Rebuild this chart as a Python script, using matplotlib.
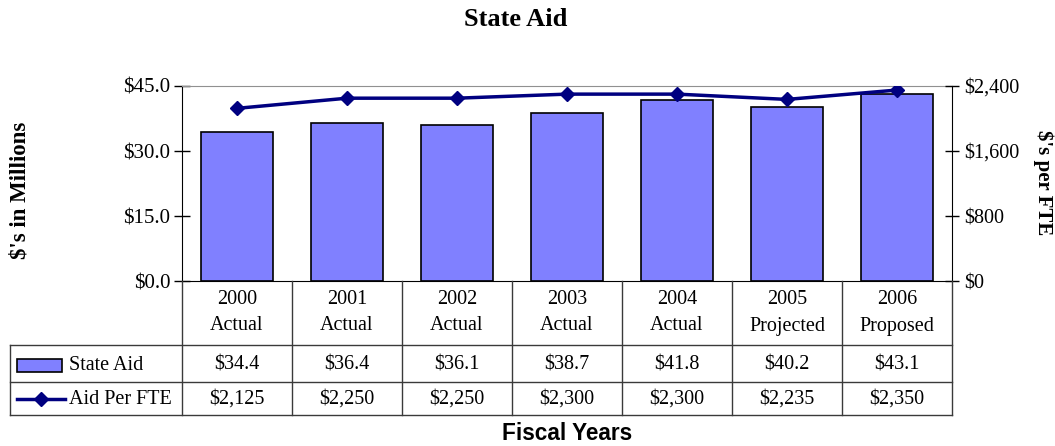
import matplotlib
matplotlib.use("Agg")
import matplotlib.pyplot as plt
from matplotlib.patches import Rectangle
from matplotlib.ticker import FuncFormatter

years = ["2000", "2001", "2002", "2003", "2004", "2005", "2006"]
status = ["Actual", "Actual", "Actual", "Actual", "Actual", "Projected", "Proposed"]
state_aid = [34.4, 36.4, 36.1, 38.7, 41.8, 40.2, 43.1]
aid_per_fte = [2125, 2250, 2250, 2300, 2300, 2235, 2350]

bar_color = "#8080FF"
line_color = "#000080"
grid_color = "#3a3a3a"
serif = "Liberation Serif"
fs = 14.5

W, H = 1055, 446
fig = plt.figure(figsize=(W / 100, H / 100), dpi=100)

# plot area in pixels
px_l, px_r, px_t, px_b = 182, 952, 86, 281
tbl_b = 415

ax = fig.add_axes([px_l / W, 1 - px_b / H, (px_r - px_l) / W, (px_b - px_t) / H])
x = list(range(len(years)))
ax.bar(x, state_aid, width=0.655, color=bar_color, edgecolor="black", linewidth=1.2, zorder=2)
ax.set_xlim(-0.5, len(years) - 0.5)
ax.set_ylim(0, 45)
ax.set_yticks([0, 15, 30, 45])
ax.yaxis.set_major_formatter(FuncFormatter(lambda v, p: f"${v:.1f}"))
ax.set_xticks([])
ax.tick_params(axis="y", direction="inout", length=11, width=1, labelsize=15, pad=3)
for lab in ax.get_yticklabels():
    lab.set_fontfamily(serif)
ax.spines["top"].set_color("#909090")
ax.spines["left"].set_color("black")
ax.spines["bottom"].set_color("black")
ax.spines["right"].set_visible(False)

ax2 = ax.twinx()
ax2.plot(x, aid_per_fte, color=line_color, linewidth=2.5, marker="D", markersize=7.5, zorder=3)
ax2.set_ylim(0, 2400)
ax2.set_yticks([0, 800, 1600, 2400])
ax2.yaxis.set_major_formatter(FuncFormatter(lambda v, p: f"${v:,.0f}"))
ax2.tick_params(axis="y", direction="inout", length=10, width=1, labelsize=fs, pad=4)
for lab in ax2.get_yticklabels():
    lab.set_fontfamily(serif)
ax2.spines["right"].set_color("black")
ax2.spines["top"].set_visible(False)
ax2.spines["left"].set_visible(False)
ax2.spines["bottom"].set_visible(False)

# data table below the chart, y in pixels down from axis
tx = fig.add_axes([px_l / W, 1 - tbl_b / H, (px_r - px_l) / W, (tbl_b - px_b) / H])
tx.set_xlim(-0.5, len(years) - 0.5)
tx.set_ylim(tbl_b - px_b, 0)
tx.axis("off")
h_row = [64, 101, 134]
left_x = -0.5 - (px_l - 10) / 110.0
for i in range(len(years) + 1):
    tx.plot([i - 0.5, i - 0.5], [0, 134], color=grid_color, lw=1, clip_on=False)
for yy in h_row:
    tx.plot([left_x, len(years) - 0.5], [yy, yy], color=grid_color, lw=1, clip_on=False)
tx.plot([left_x, left_x], [64, 134], color=grid_color, lw=1, clip_on=False)

for i in x:
    tx.text(i, 18, years[i], ha="center", va="center", fontsize=fs, family=serif)
    tx.text(i, 45, status[i], ha="center", va="center", fontsize=fs, family=serif)
    tx.text(i, 84, f"${state_aid[i]:.1f}", ha="center", va="center", fontsize=fs, family=serif)
    tx.text(i, 118, f"${aid_per_fte[i]:,}", ha="center", va="center", fontsize=fs, family=serif)

# legend keys inside table
sw = Rectangle((-2.0, 78), 0.41, 13, facecolor=bar_color, edgecolor="black", lw=1.2, clip_on=False)
tx.add_patch(sw)
tx.text(-1.527, 84, "State Aid", ha="left", va="center", fontsize=fs, family=serif)
tx.plot([-2.0, -1.56], [118, 118], color=line_color, lw=2.5, clip_on=False)
tx.plot([-1.78], [118], color=line_color, marker="D", markersize=7.5, clip_on=False)
tx.text(-1.527, 118, "Aid Per FTE", ha="left", va="center", fontsize=fs, family=serif)

fig.text(516 / W, 1 - 20 / H, "State Aid", ha="center", va="center",
         fontsize=19, fontweight="bold", family=serif)
fig.text(20 / W, 1 - 190 / H, "$'s in Millions", ha="center", va="center", rotation=90,
         fontsize=16.5, fontweight="bold", family=serif)
fig.text(1043 / W, 1 - 183 / H, "$'s per FTE", ha="center", va="center", rotation=270,
         fontsize=15, fontweight="bold", family=serif)
fig.text(567 / W, 1 - 434 / H, "Fiscal Years", ha="center", va="center",
         fontsize=16.3, fontweight="bold", family="Liberation Sans")

fig.savefig("out.png", dpi=100)
